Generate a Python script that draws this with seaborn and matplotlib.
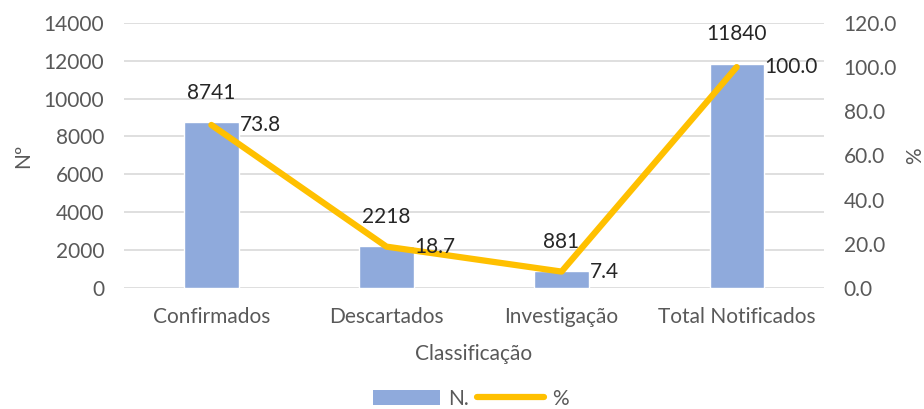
import pandas as pd
import seaborn as sns
import matplotlib.pyplot as plt
from matplotlib.lines import Line2D
from matplotlib.patches import Patch

categories = ['Confirmados', 'Descartados', 'Investigação', 'Total Notificados']
counts = [8741, 2218, 881, 11840]
percents = [73.8, 18.7, 7.4, 100.0]

df = pd.DataFrame({'classificacao': categories, 'n': counts, 'pct': percents})

sns.set_style('white')
plt.rcParams['font.family'] = ['Lato', 'DejaVu Sans']
text_color = '#595959'

fig = plt.figure(figsize=(9.24, 4.09), dpi=100)
ax = fig.add_axes([0.134, 0.296, 0.758, 0.648])

sns.barplot(data=df, x='classificacao', y='n', color='#8FAADC', width=0.31,
            saturation=1, ax=ax, zorder=2)
ax.set_ylim(0, 14000)
ax.set_yticks(range(0, 14001, 2000))
ax.yaxis.grid(True, color='#D9D9D9', linewidth=1.2, zorder=0)
ax.set_axisbelow(True)
for s in ax.spines.values():
    s.set_visible(False)
ax.tick_params(axis='y', length=0, labelsize=15, colors=text_color, pad=14)
ax.tick_params(axis='x', length=0, labelsize=15, colors=text_color, pad=14)
ax.set_xlabel('Classificação', fontsize=15, color=text_color, labelpad=12)
ax.set_ylabel('Nº', fontsize=15, color=text_color, labelpad=8)

for i, v in enumerate(counts):
    ax.text(i, v + 1550, str(v), ha='center', va='center', fontsize=15, color='#262626')

ax2 = ax.twinx()
sns.lineplot(data=df, x='classificacao', y='pct', color='#FFC000', linewidth=4.5,
             ax=ax2, sort=False, solid_capstyle='round')
ax2.set_xlim(-0.5, 3.5)
ax2.set_ylim(0, 120)
ax2.set_yticks(range(0, 121, 20))
ax2.set_yticklabels([f'{t:.1f}' for t in range(0, 121, 20)])
for s in ax2.spines.values():
    s.set_visible(False)
ax2.tick_params(axis='y', length=0, labelsize=15, colors=text_color, pad=14)
ax2.set_ylabel('%', fontsize=15, color=text_color, labelpad=6)
ax2.set_xlabel('')

for i, p in enumerate(percents):
    ax2.text(i + 0.16, p, f'{p:.1f}', ha='left', va='center', fontsize=15, color='#262626')

handles = [Patch(facecolor='#8FAADC', edgecolor='none'),
           Line2D([0], [0], color='#FFC000', linewidth=4.5, solid_capstyle='round')]
fig.legend(handles, ['N.', '%'], loc='lower center', bbox_to_anchor=(0.51, -0.045),
           ncol=2, frameon=False, fontsize=15, labelcolor=text_color,
           handlelength=3.2, columnspacing=0.4, handletextpad=0.4)

fig.savefig('out.png', dpi=100)
